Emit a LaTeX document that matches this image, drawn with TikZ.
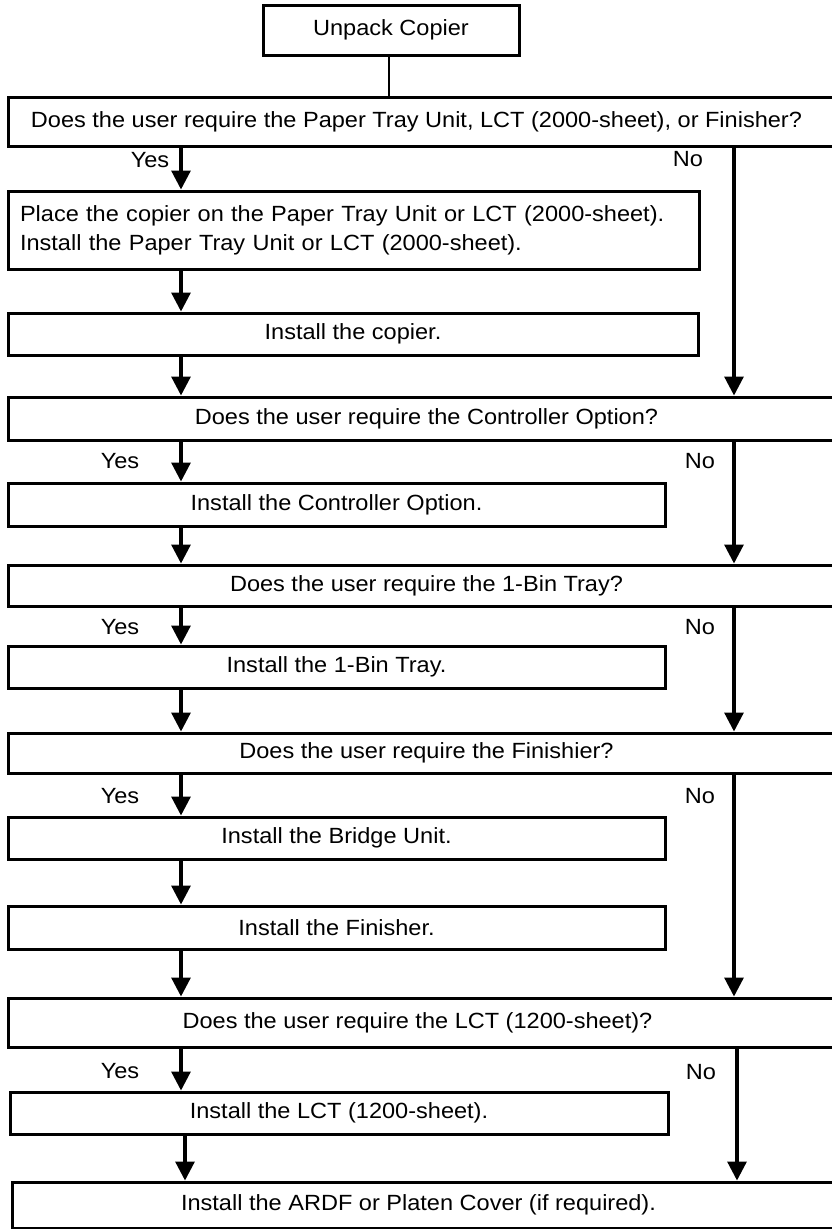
\documentclass[tikz,border=0pt]{standalone}
\usepackage{fontspec}
\setmainfont{Liberation Sans}[FakeStretch=1.07]
\usetikzlibrary{arrows.meta}
\newcommand\diagfont{\fontsize{22pt}{29pt}\selectfont}
\begin{document}
\begin{tikzpicture}[x=1pt,y=-1pt,
  box/.style={draw, line width=3pt, inner sep=0pt, font=\diagfont, anchor=center},
  wide/.style={box, minimum width=837pt},
  arr/.style={line width=3.2pt, -{Triangle[width=19pt,length=19pt]}},
  lbl/.style={font=\diagfont, inner sep=0pt}]
\useasboundingbox (0,0) rectangle (832,1229);
\begin{scope}
\clip (0,0) rectangle (832,1229);
\coordinate (cy) at (181,0);
\coordinate (cy2) at (185,0);
\coordinate (cn) at (734,0);
\coordinate (cn2) at (737,0);
% boxes
\node[box, minimum width=256pt, minimum height=50pt] (unpack) at (391,30) {Unpack Copier};
\node[wide, minimum height=48.5pt] (q1) at (426.5,121.75) {\hspace*{-20pt}Does the user require the Paper Tray Unit, LCT (2000-sheet), or Finisher?};
\node[box, minimum width=691pt, minimum height=78pt, text width=667pt, align=left] (place) at (353.5,230) {Place the copier on the Paper Tray Unit or LCT (2000-sheet).\\Install the Paper Tray Unit or LCT (2000-sheet).};
\node[box, minimum width=690pt, minimum height=42pt] (copier) at (353,334) {Install the copier.};
\node[wide, minimum height=43pt] (q2) at (426.5,418.5) {Does the user require the Controller Option?};
\node[box, minimum width=657pt, minimum height=43pt] (ctrl) at (336.5,504.5) {Install the Controller Option.};
\node[wide, minimum height=41pt] (q3) at (426.5,585.5) {Does the user require the 1-Bin Tray?};
\node[box, minimum width=657pt, minimum height=42pt] (bin) at (336.5,667) {Install the 1-Bin Tray.};
\node[wide, minimum height=40pt] (q4) at (426.5,753) {Does the user require the Finishier?};
\node[box, minimum width=657pt, minimum height=42pt] (bridge) at (336.5,838) {Install the Bridge Unit.};
\node[box, minimum width=657pt, minimum height=43pt] (fin) at (336.5,927.5) {Install the Finisher.};
\node[wide, minimum height=49pt] (q5) at (426.5,1022.5) {\hspace*{-18pt}Does the user require the LCT (1200-sheet)?};
\node[box, minimum width=658pt, minimum height=42pt] (lct) at (339,1113) {Install the LCT (1200-sheet).};
\node[box, minimum width=833pt, minimum height=46pt] (last) at (428.5,1205) {\hspace*{-20pt}Install the ARDF or Platen Cover (if required).};
% labels
\node[lbl] (y1) at (150,160) {Yes};
\node[lbl] (n1) at (688,159) {No};
\node[lbl] (y2) at (120,461) {Yes};
\node[lbl] (n2) at (700,461) {No};
\node[lbl] (y3) at (120,627) {Yes};
\node[lbl] (n3) at (700,627) {No};
\node[lbl] (y4) at (120,796) {Yes};
\node[lbl] (n4) at (700,796) {No};
\node[lbl] (y5) at (120,1071) {Yes};
\node[lbl] (n5) at (701,1072) {No};
% connectors
\draw[line width=1.2pt] (unpack.south -| 389,0) -- (q1.north -| 389,0);
\draw[arr] (q1.south -| cy) -- (place.north -| cy);
\draw[arr] (q1.south -| cn) -- (q2.north -| cn);
\draw[arr] (place.south -| cy) -- (copier.north -| cy);
\draw[arr] (copier.south -| cy) -- (q2.north -| cy);
\draw[arr] (q2.south -| cy) -- (ctrl.north -| cy);
\draw[arr] (q2.south -| cn) -- (q3.north -| cn);
\draw[arr] (ctrl.south -| cy) -- (q3.north -| cy);
\draw[arr] (q3.south -| cy) -- (bin.north -| cy);
\draw[arr] (q3.south -| cn) -- (q4.north -| cn);
\draw[arr] (bin.south -| cy) -- (q4.north -| cy);
\draw[arr] (q4.south -| cy) -- (bridge.north -| cy);
\draw[arr] (q4.south -| cn) -- (q5.north -| cn);
\draw[arr] (bridge.south -| cy) -- (fin.north -| cy);
\draw[arr] (fin.south -| cy) -- (q5.north -| cy);
\draw[arr] (q5.south -| cy) -- (lct.north -| cy);
\draw[arr] (q5.south -| cn2) -- (last.north -| cn2);
\draw[arr] (lct.south -| cy2) -- (last.north -| cy2);
\end{scope}
\end{tikzpicture}
\end{document}
